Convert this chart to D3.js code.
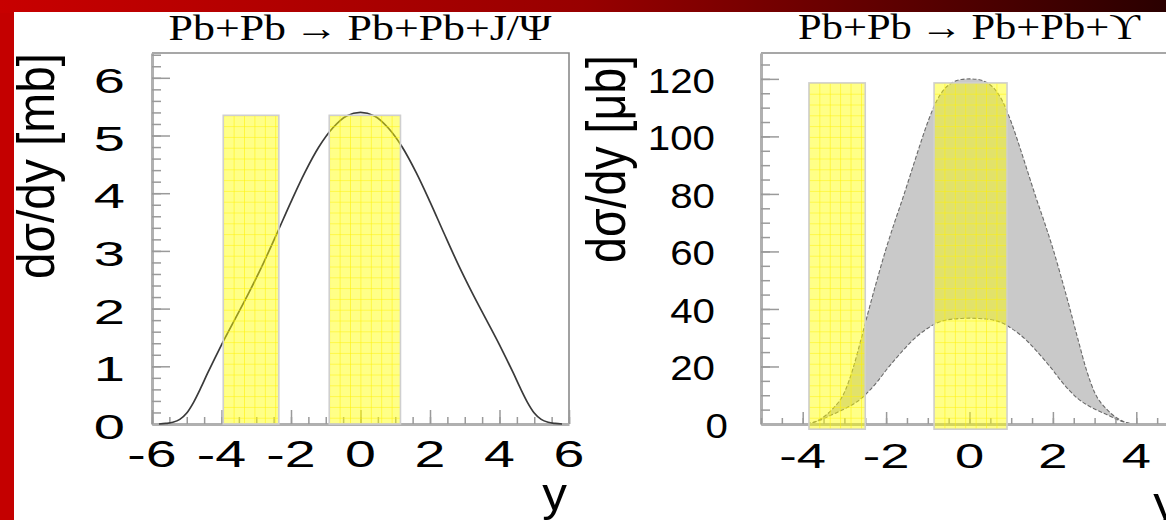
<!DOCTYPE html>
<html><head><meta charset="utf-8">
<script src="https://cdn.jsdelivr.net/npm/d3@7"></script>
<style>body{margin:0;overflow:hidden;background:#fff}</style>
</head><body>
<svg id="c" width="1166" height="520"></svg>
<script>
// ---------------- data ----------------
const jpsiTitle = "Pb+Pb\u2009\u2192\u2009Pb+Pb+J/\u03A8";
const upsTitle = "Pb+Pb\u2009\u2192\u2009Pb+Pb+\u03D2";
const jpsiYTitle = "d\u03C3/dy [mb]";
const upsYTitle = "d\u03C3/dy [\u03BCb]";
const xTitle = "y";

const jpsiRapidity = [-5.8,-5.6,-5.4,-5.2,-5.0,-4.8,-4.6,-4.4,-4.2,-4.0,-3.6,-3.2,-2.8,-2.4,-2.0,-1.6,-1.2,-0.8,-0.4,0,0.4,0.8,1.2,1.6,2.0,2.4,2.8,3.2,3.6,4.0,4.2,4.4,4.6,4.8,5.0,5.2,5.4,5.6,5.8];
const jpsiXsec = [0,0.01,0.03,0.08,0.19,0.38,0.62,0.88,1.13,1.37,1.83,2.29,2.78,3.31,3.85,4.36,4.8,5.13,5.34,5.4,5.34,5.13,4.8,4.36,3.85,3.31,2.78,2.29,1.83,1.37,1.13,0.88,0.62,0.38,0.19,0.08,0.03,0.01,0];

const upsRapidity = [-3.9,-3.6,-3.3,-3.0,-2.8,-2.6,-2.4,-2.2,-2.0,-1.8,-1.6,-1.4,-1.2,-1.0,-0.8,-0.6,-0.4,-0.2,0,0.2,0.4,0.6,0.8,1.0,1.2,1.4,1.6,1.8,2.0,2.2,2.4,2.6,2.8,3.0,3.3,3.6,3.9];
const upsUpper = [0,1.5,5,11,19,29.5,40.5,51,61,70,78.5,87.5,96.5,105,112,116.5,118.8,119.8,120,119.8,118.8,116.5,112,105,96.5,87.5,78.5,70,61,51,40.5,29.5,19,11,5,1.5,0];
const upsLower = [0,1.2,3.2,5.2,6.8,8.8,11.6,14.9,18.7,22.2,25.5,28.6,31.2,33.3,35.0,36.0,36.5,36.7,36.8,36.7,36.5,36.0,35.0,33.3,31.2,28.6,25.5,22.2,18.7,14.9,11.6,8.8,6.8,5.2,3.2,1.2,0];

const jpsiBarLo = [-3.95, -0.9];
const jpsiBarHi = [-2.35, 1.15];
const jpsiBarTop = [5.35, 5.35];
const jpsiBarBottom = [0, 0];

const upsBarLo = [-3.85, -0.85];
const upsBarHi = [-2.5, 0.9];
const upsBarTop = [118.6, 118.6];
const upsBarBottom = [-1.8, -1.8];

const jpsiXTicks = [-6,-4,-2,0,2,4,6];
const jpsiXTickLabels = ["-6","-4","-2","0","2","4","6"];
const jpsiYTicks = [0,1,2,3,4,5,6];
const jpsiYTickLabels = ["0","1","2","3","4","5","6"];
const upsXTicks = [-4,-2,0,2,4];
const upsXTickLabels = ["-4","-2","0","2","4"];
const upsYTicks = [0,20,40,60,80,100,120];
const upsYTickLabels = ["0","20","40","60","80","100","120"];

// ---------------- drawing ----------------
const svg = d3.select("#c");
const defs = svg.append("defs");
const grad = defs.append("linearGradient").attr("id","topGrad").attr("x1","0").attr("x2","1").attr("y1","0").attr("y2","0");
grad.append("stop").attr("offset","0").attr("stop-color","#c80000");
grad.append("stop").attr("offset","0.5").attr("stop-color","#980000");
grad.append("stop").attr("offset","1").attr("stop-color","#2a0000");

svg.append("rect").attr("width",1166).attr("height",520).attr("fill","#c40000");
svg.append("rect").attr("width",1166).attr("height",13).attr("fill","url(#topGrad)");
svg.append("rect").attr("x",14).attr("y",12).attr("width",1152).attr("height",508).attr("fill","#ffffff");

const SANS = "'Liberation Sans', Arial, Helvetica, sans-serif";
const SERIF = "'Liberation Serif', 'Times New Roman', serif";

function stretchedText(g, str, x, y, opts){
  const t = g.append("text")
    .attr("font-family", opts.family || SANS)
    .attr("font-size", opts.size)
    .attr("text-anchor", opts.anchor || "start")
    .attr("fill", "#000")
    .text(str);
  let sx = opts.sx || 1;
  if (opts.width) {
    const w = t.node().getComputedTextLength();
    if (w > 0) sx = opts.width / w;
  }
  t.attr("transform", `translate(${x},${y}) scale(${sx},1)` + (opts.rotate ? ` rotate(${opts.rotate})` : ""));
  return t;
}

let patId = 0;
function drawBars(g, x, y, lo, hi, top, bottom){
  lo.forEach((l, i) => {
    const x0 = x(l), x1 = x(hi[i]), yt = y(top[i]), yb = y(bottom[i]);
    const id = "pat" + (patId++);
    const p = defs.append("pattern").attr("id", id).attr("patternUnits","userSpaceOnUse")
      .attr("x", x0).attr("y", yt).attr("width", 10.4).attr("height", 10.8);
    p.append("rect").attr("width",10.4).attr("height",10.8).attr("fill","rgba(255,255,0,0.47)");
    p.append("path").attr("d","M0,0H10.4M0,0V10.8").attr("stroke","rgba(255,240,0,0.95)").attr("stroke-width",1.1);
    g.append("rect").attr("x", x0).attr("y", yt).attr("width", x1 - x0).attr("height", yb - yt)
      .attr("fill", `url(#${id})`).attr("stroke","#cfcfcf").attr("stroke-width",1.6);
  });
}

function range(a, b, step){ const out=[]; for(let v=a; v<=b+1e-9; v+=step) out.push(+v.toFixed(6)); return out; }

function drawAxes(g, x, y, cfg){
  const [xa, xb] = x.range();
  const y0 = y(0) , ytop = y.range()[1];
  g.append("path").attr("d", `M${xa},${ytop}H${Math.min(xb,1171)}` + (cfg.rightFrame ? `V${y0}` : ""))
    .attr("fill","none").attr("stroke","#8a8a8a").attr("stroke-width",1.6);
  const styleAxis = sel => {
    sel.select(".domain").attr("stroke","#b0b0b0").attr("stroke-width",3);
    sel.selectAll(".tick line").attr("stroke","#9a9a9a").attr("stroke-width",1.5);
  };
  g.append("g").attr("transform",`translate(${xa},0)`)
    .call(d3.axisRight(y).tickValues(cfg.yMinor).tickSize(9).tickSizeOuter(0).tickFormat(""))
    .call(styleAxis);
  g.append("g").attr("transform",`translate(${xa},0)`)
    .call(d3.axisRight(y).tickValues(cfg.yMajor).tickSize(18).tickSizeOuter(0).tickFormat(""))
    .call(sel => { sel.select(".domain").remove(); sel.selectAll(".tick line").attr("stroke","#9a9a9a").attr("stroke-width",1.5); });
  g.append("g").attr("transform",`translate(0,${y0})`)
    .call(d3.axisTop(x).tickValues(cfg.xMinor).tickSize(cfg.xMinorLen).tickSizeOuter(0).tickFormat(""))
    .call(styleAxis);
  g.append("g").attr("transform",`translate(0,${y0})`)
    .call(d3.axisTop(x).tickValues(cfg.xMajor).tickSize(cfg.xMajorLen).tickSizeOuter(0).tickFormat(""))
    .call(sel => { sel.select(".domain").remove(); sel.selectAll(".tick line").attr("stroke","#9a9a9a").attr("stroke-width",1.5); });
}

// ---------- Left panel: J/Psi ----------
{
  const g = svg.append("g");
  const x = d3.scaleLinear().domain([-6, 6]).range([152, 569]);
  const y = d3.scaleLinear().domain([0, 6.43]).range([424, 53]);

  drawAxes(g, x, y, {
    rightFrame: true,
    yMinor: range(0, 6.4, 0.2), yMajor: jpsiYTicks,
    xMinor: range(-6, 6, 0.5), xMajor: jpsiXTicks, xMinorLen: 7, xMajorLen: 14
  });

  const line = d3.line().x((d,i) => x(jpsiRapidity[i])).y(d => y(d)).curve(d3.curveMonotoneX);
  g.append("path").attr("d", line(jpsiXsec)).attr("fill","none").attr("stroke","#3a3a3a").attr("stroke-width",1.7);

  drawBars(g, x, y, jpsiBarLo, jpsiBarHi, jpsiBarTop, jpsiBarBottom);

  jpsiYTicks.forEach((v,i) => stretchedText(g, jpsiYTickLabels[i], 125, y(v) + 15, {size: 35, sx: 1.6, anchor: "end"}));
  jpsiXTicks.forEach((v,i) => stretchedText(g, jpsiXTickLabels[i], x(v), 467, {size: 37, sx: 1.5, anchor: "middle"}));
  stretchedText(g, jpsiTitle, 360, 40, {size: 36, family: SERIF, anchor: "middle", width: 383});
  stretchedText(g, jpsiYTitle, 54, 53, {size: 47.8, sx: 1.1, anchor: "end", rotate: -90});
  stretchedText(g, xTitle, 567, 510, {size: 47, sx: 1.05, anchor: "end"});
}

// ---------- Right panel: Upsilon ----------
{
  const g = svg.append("g");
  const x = d3.scaleLinear().domain([-5, 5]).range([761, 1178]);
  const y = d3.scaleLinear().domain([0, 129]).range([424, 53]);

  const area = d3.area().x((d,i) => x(upsRapidity[i])).y0((d,i) => y(upsLower[i])).y1(d => y(d)).curve(d3.curveMonotoneX);
  g.append("path").attr("d", area(upsUpper)).attr("fill","#c9c9c9");
  const lineU = d3.line().x((d,i) => x(upsRapidity[i])).y(d => y(d)).curve(d3.curveMonotoneX);
  g.append("path").attr("d", lineU(upsUpper)).attr("fill","none").attr("stroke","#6a6a6a").attr("stroke-width",1.1).attr("stroke-dasharray","4,2");
  g.append("path").attr("d", lineU(upsLower)).attr("fill","none").attr("stroke","#6a6a6a").attr("stroke-width",1.1).attr("stroke-dasharray","4,2");

  drawAxes(g, x, y, {
    rightFrame: false,
    yMinor: range(0, 125, 5), yMajor: upsYTicks,
    xMinor: range(-5, 5, 0.5), xMajor: upsXTicks, xMinorLen: 6, xMajorLen: 12
  });

  drawBars(g, x, y, upsBarLo, upsBarHi, upsBarTop, upsBarBottom);

  upsYTicks.forEach((v,i) => stretchedText(g, upsYTickLabels[i], v === 0 ? 728 : 715, y(v) + 14, {size: 35, sx: 1.15, anchor: "end"}));
  upsXTicks.forEach((v,i) => stretchedText(g, upsXTickLabels[i], x(v), 468, {size: 35, sx: 1.5, anchor: "middle"}));
  stretchedText(g, upsTitle, 969, 39, {size: 36, family: SERIF, anchor: "middle", width: 342});
  stretchedText(g, upsYTitle, 625, 55, {size: 46.5, sx: 1.19, anchor: "end", rotate: -90});
  stretchedText(g, xTitle, 1178, 519, {size: 47, sx: 1.05, anchor: "end"});
}
</script>
</body></html>
